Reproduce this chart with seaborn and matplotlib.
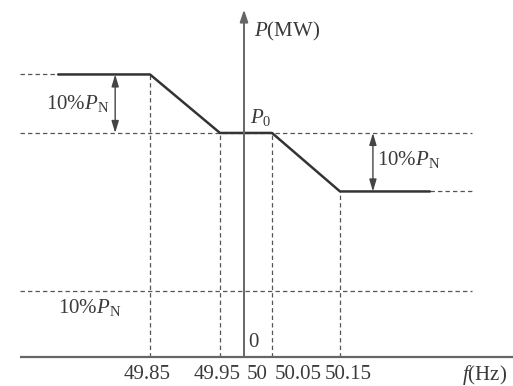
import matplotlib
matplotlib.use("Agg")
import matplotlib.pyplot as plt
import seaborn as sns
import pandas as pd
import numpy as np

sns.set_theme(style="white")
plt.rcParams['font.family'] = ['Liberation Serif', 'DejaVu Serif']
plt.rcParams['mathtext.fontset'] = 'custom'
plt.rcParams['mathtext.rm'] = 'Liberation Serif'
plt.rcParams['mathtext.it'] = 'Liberation Serif:italic'

# ---- data ----
freq_ticks = [49.85, 49.95, 50.0, 50.05, 50.15]
tick_labels = ["49.85", "49.95", "50", "50.05", "50.15"]
P0 = 0.383
dP = 0.100          # 10% PN
P_up = P0 + dP
P_low = P0 - dP
P_ref_low = 0.113   # lower 10% PN reference line

curve_f = [49.705, 49.85, 49.95, 50.05, 50.15, 50.292]
curve_p = [P_up, P_up, P0, P0, P_low, P_low]

f_left, f_right = 49.645, 50.359

# schematic (not-to-scale) frequency axis, as drawn in the original
_cal_f = np.array([49.5, 49.85, 49.95, 50.0, 50.05, 50.15, 50.5])
_cal_u = np.array([-71.6, 150, 220, 244, 272, 340, 561.6])
def _fwd(f):
    return np.interp(f, _cal_f, _cal_u)
def _inv(u):
    return np.interp(u, _cal_u, _cal_f)

# ---- figure ----
fig = plt.figure(figsize=(5.13, 3.86), dpi=100)
ax = fig.add_axes([0, 0, 1, 1])

line_c = "#333333"
dash_c = "#555555"
txt_c = "#3a3a3a"
dash_kw = dict(color=dash_c, lw=0.9, dashes=(3.5, 2.5))

# main characteristic
df = pd.DataFrame({"f": curve_f, "P": curve_p})
sns.lineplot(data=df, x="f", y="P", ax=ax, color=line_c, lw=1.8,
             sort=False, estimator=None, zorder=3)

ax.set_xscale("function", functions=(_fwd, _inv))
ax.set_xlim(_inv(0), _inv(513))
ax.set_ylim(-0.0496, 0.6103)
ax.axis("off")

# horizontal dashed guide lines
ax.plot([f_left, f_right], [P0, P0], **dash_kw)
ax.plot([f_left, f_right], [P_ref_low, P_ref_low], **dash_kw)
ax.plot([f_left, curve_f[0]], [P_up, P_up], **dash_kw)
ax.plot([curve_f[-1], f_right], [P_low, P_low], **dash_kw)

# vertical dashed guide lines
for f, p in zip(freq_ticks[:2] + freq_ticks[3:], [P_up, P0, P0, P_low]):
    ax.plot([f, f], [0, p], **dash_kw)

# axes
ax.plot([f_left, _inv(513)], [0, 0], color="#666666", lw=1.6, solid_capstyle="butt")
ax.annotate("", xy=(50.0, 0.594), xytext=(50.0, 0.0),
            arrowprops=dict(arrowstyle="-|>,head_length=0.6,head_width=0.2",
                            color="#666666", lw=1.4, shrinkA=0, shrinkB=0))

# double arrows
arr = dict(arrowstyle="<|-|>,head_length=0.6,head_width=0.18",
           color="#444444", lw=1.0, shrinkA=0, shrinkB=0)
ax.annotate("", xy=(49.795, P_up), xytext=(49.795, P0), arrowprops=arr)
ax.annotate("", xy=(50.202, P0), xytext=(50.202, P_low), arrowprops=arr)

fs = 15
lab = r"10%$P_\mathrm{N}$"
ax.text(49.735, 0.434, lab, ha="center", va="center", fontsize=fs, color=txt_c)
ax.text(50.208, 0.337, lab, ha="left", va="center", fontsize=fs, color=txt_c)
ax.text(49.755, 0.085, lab, ha="center", va="center", fontsize=fs, color=txt_c)

ax.text(50.017, 0.556, r"$P$(MW)", ha="left", va="center", fontsize=fs, color=txt_c)
ax.text(50.010, 0.409, r"$P_0$", ha="left", va="center", fontsize=fs, color=txt_c)
ax.text(50.008, 0.024, "0", ha="left", va="center", fontsize=fs, color=txt_c)

label_y = -0.030
label_shift = [-2.5, -3, 13, 26, 8]   # pixels, to keep labels apart
for f, t, s in zip(freq_ticks, tick_labels, label_shift):
    ax.annotate(t, xy=(f, label_y), xytext=(s, 0), textcoords="offset pixels",
                ha="center", va="center", fontsize=fs, color=txt_c)
ax.text(50.378, label_y, r"$f$(Hz)", ha="center", va="center", fontsize=fs, color=txt_c)

fig.savefig("out.png", dpi=100)
